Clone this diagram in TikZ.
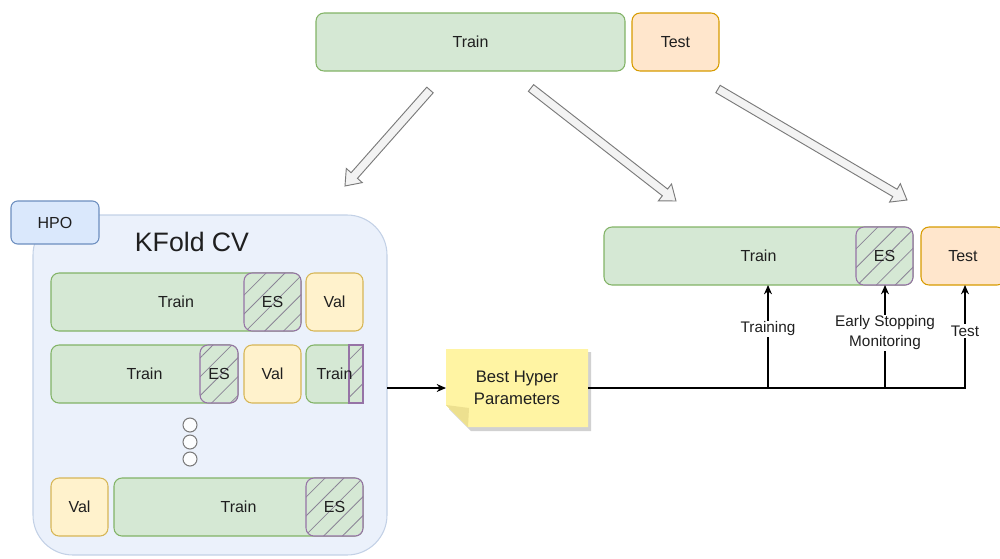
\documentclass[tikz,border=0pt]{standalone}
\usepackage{fontspec}
\setmainfont{Liberation Sans}
\usetikzlibrary{calc,patterns.meta,arrows.meta}
\definecolor{gfill}{HTML}{D5E8D4}
\definecolor{gline}{HTML}{82B366}
\definecolor{ofill}{HTML}{FFE6CC}
\definecolor{oline}{HTML}{D79B00}
\definecolor{yfill}{HTML}{FFF2CC}
\definecolor{yline}{HTML}{D6B656}
\definecolor{pline}{HTML}{9673A6}
\definecolor{hline}{HTML}{8A8496}
\definecolor{bfill}{HTML}{DAE8FC}
\definecolor{bline}{HTML}{6C8EBF}
\definecolor{cfill}{HTML}{EBF1FB}
\definecolor{cline}{HTML}{C3D1E6}
\definecolor{nfill}{HTML}{FFF4A3}
\definecolor{nfold}{HTML}{EDE08F}
\definecolor{afill}{HTML}{F3F3F3}
\definecolor{aline}{HTML}{7A7A7A}
\definecolor{txt}{HTML}{1F1F1F}
\tikzset{
  sz/.style 2 args={minimum width=#1*0.75pt, minimum height=#2*0.75pt, inner sep=0pt, outer sep=0pt, anchor=north west},
  base/.style={draw, rounded corners=6pt, line width=0.8pt, font=\fontsize{12}{14}\selectfont, text=txt},
  trainbox/.style={base, fill=gfill, draw=gline},
  testbox/.style={base, fill=ofill, draw=oline},
  valbox/.style={base, fill=yfill, draw=yline},
  esbox/.style={base, draw=pline, preaction={fill=gfill}, pattern={Lines[angle=45,distance=10pt,line width=0.6pt]}, pattern color=hline},
  hpobox/.style={base, fill=bfill, draw=bline, rounded corners=5pt},
  container/.style={draw=cline, fill=cfill, line width=0.8pt, rounded corners=30pt},
  dot/.style={circle, draw=aline, fill=white!85!cfill, line width=0.8pt, minimum size=10.5pt, inner sep=0pt},
  barrow/.style={draw=aline, fill=afill, line width=0.7pt, line join=miter},
  trunk/.style={line width=1.6pt, black},
  branch/.style={line width=0.9pt, black, -{Stealth[length=7pt,width=6pt]}},
  lbl/.style={fill=white, inner sep=1pt, text=txt, font=\fontsize{11.5}{15}\selectfont, align=center},
  plain/.style={text=txt, font=\fontsize{12}{14}\selectfont}
}
\newcommand\blockarrow[2]{%
  \coordinate (#1h) at ($(#2)!10.5pt!(#1)$);
  \draw[barrow] ($(#1)!3.2pt!90:(#2)$) -- ($(#1h)!3.2pt!90:(#2)$) -- ($(#1h)!8pt!90:(#2)$) -- (#2)
    -- ($(#1h)!8pt!-90:(#2)$) -- ($(#1h)!3.2pt!-90:(#2)$) -- ($(#1)!3.2pt!-90:(#2)$) -- cycle;}
\begin{document}
\begin{tikzpicture}[x=0.75pt,y=-0.75pt]
\useasboundingbox (0,0) rectangle (1000,558);
\clip (0,0) rectangle (1000,558);
% top split
\node[trainbox, sz={309}{58}] (ttrain) at (316,13) {Train};
\node[testbox, sz={87}{58}] (ttest) at (632,13) {Test};
% block arrows
\coordinate (a1s) at (430,90); \coordinate (a1e) at (345,186);
\coordinate (a2s) at (531,88); \coordinate (a2e) at (676,201);
\coordinate (a3s) at (718,89); \coordinate (a3e) at (907,200);
\blockarrow{a1s}{a1e}
\blockarrow{a2s}{a2e}
\blockarrow{a3s}{a3e}
% container
\node[container, sz={354}{340}] (kfold) at (33,215) {};
\node[hpobox, sz={88}{43}] (hpo) at (11,201) {HPO};
\node[text=txt, font=\fontsize{20}{24}\selectfont] (kftitle) at (192,242) {KFold CV};
% row 1
\node[trainbox, sz={250}{58}] (r1train) at (51,273) {Train};
\node[esbox, sz={57}{58}] (r1es) at (244,273) {ES};
\node[valbox, sz={57}{58}] (r1val) at (306,273) {Val};
% row 2
\node[trainbox, sz={187}{58}] (r2train) at (51,345) {Train};
\node[esbox, sz={38}{58}] (r2es) at (200,345) {ES};
\node[valbox, sz={57}{58}] (r2val) at (244,345) {Val};
\node[trainbox, sz={57}{58}] (r2train2) at (306,345) {};
\node[esbox, rounded corners=0pt, sz={14}{58}] (r2es2) at (349,345) {};
\node[plain] (r2t2lbl) at (r2train2.center) {Train};
% dots
\node[dot] (d1) at (190,425) {};
\node[dot] (d2) at (190,442) {};
\node[dot] (d3) at (190,459) {};
% row 3
\node[valbox, sz={57}{58}] (r3val) at (51,478) {Val};
\node[trainbox, sz={249}{58}] (r3train) at (114,478) {Train};
\node[esbox, sz={57}{58}] (r3es) at (306,478) {ES};
% note
\node[sz={142}{78}] (note) at (446,349) {};
\fill[black, opacity=0.18] (449,352) -- (591,352) -- (591,431) -- (471,431) -- (449,409) -- cycle;
\fill[nfill] (446,349) -- (588,349) -- (588,427) -- (468,427) -- (446,405) -- cycle;
\fill[nfold] (446,405) -- (469,408) -- (468,427) -- cycle;
\node[plain, align=center, font=\fontsize{12.5}{16}\selectfont] (notetxt) at (note.center) {Best Hyper\\Parameters};
% right split
\node[trainbox, sz={309}{58}] (rtrain) at (604,227) {Train};
\node[esbox, sz={57}{58}] (res) at (856,227) {ES};
\node[testbox, sz={84}{58}] (rtest) at (921,227) {Test};
% connectors
\draw[line width=0.8pt, -{Stealth[length=7pt,width=6pt]}] (kfold.east |- note.west) -- (note.west);
\coordinate (j1) at (768,388);
\coordinate (j2) at (885,388);
\coordinate (j3) at (965,388);
\draw[trunk] (note.east) -- ([xshift=0.45pt]j3);
\draw[branch] (j1) -- (j1 |- rtrain.south);
\draw[branch] (j2) -- (j2 |- res.south);
\draw[branch] (j3) -- (j3 |- rtest.south);
\node[lbl] (l1) at (768,329) {Training};
\node[lbl] (l2) at (885,333) {Early Stopping\\Monitoring};
\node[lbl] (l3) at (965,331) {Test};
\end{tikzpicture}
\end{document}
